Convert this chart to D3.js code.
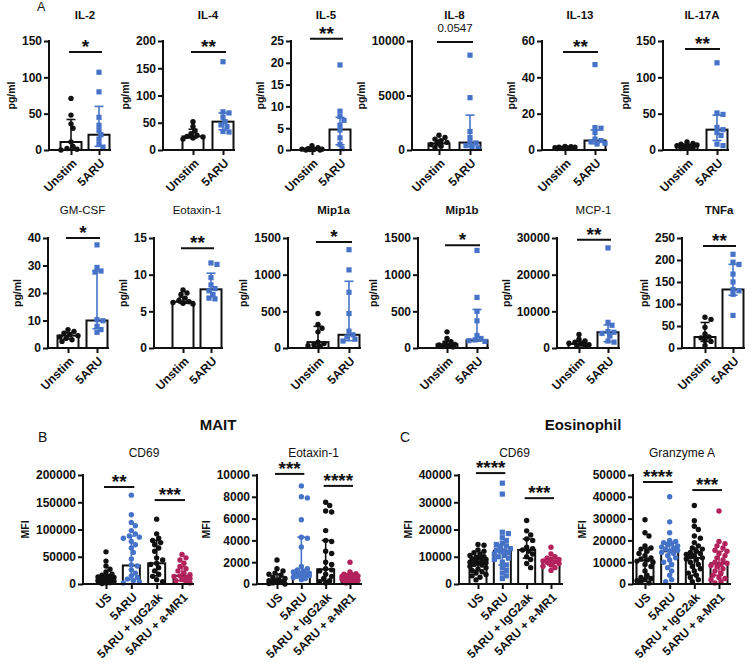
<!DOCTYPE html>
<html>
<head>
<meta charset="utf-8">
<script src="https://cdn.jsdelivr.net/npm/d3@7"></script>
<style>
  body { margin: 0; background: #fff; }
  text { font-family: "Liberation Sans", Arial, Helvetica, sans-serif; }
</style>
</head>
<body>
<script>
// ---- panel A: cytokines, Unstim vs 5ARU ----
const cytokines = ['IL-2', 'IL-4', 'IL-5', 'IL-8', 'IL-13', 'IL-17A',
    'GM-CSF', 'Eotaxin-1', 'Mip1a', 'Mip1b', 'MCP-1', 'TNFa'];
const stimGroups = ['Unstim', '5ARU'];

const unstimValues = [
    [71, 48, 36, 30, 11, 5, 2, 1, 0],
    [52, 43, 35, 30, 27, 25, 24, 22, 20],
    [1.0, 0.5, 0.3, 0.2, 0.2, 0.1, 0.1, 0, 0],
    [1350, 1150, 1000, 850, 700, 600, 500, 350, 200],
    [2.0, 1.8, 1.6, 1.5, 1.3, 1.2, 1.0, 0.9, 0.8],
    [11, 9, 8, 7, 6, 5, 4, 3, 2],
    [6.7, 6.0, 5.4, 4.8, 4.5, 4.0, 3.5, 3.0, 2.4],
    [7.9, 7.5, 7.3, 6.8, 6.5, 6.3, 6.2, 6.1, 6.0],
    [470, 320, 270, 220, 80, 60, 45, 30, 20],
    [220, 130, 85, 65, 50, 40, 30, 20, 15],
    [3700, 2400, 1900, 1600, 1300, 1100, 900, 700, 500],
    [70, 65, 47, 32, 25, 23, 17, 15, 6]
];
const aruValues = [
    [107, 80, 45, 34, 27, 21, 15, 8, 4],
    [162, 70, 68, 60, 52, 46, 43, 34, 33],
    [19.5, 8.9, 7.7, 6.8, 5.7, 4.6, 2.8, 1.3, 0.3],
    [8700, 4800, 1700, 1150, 700, 650, 400, 300, 200],
    [47, 12.3, 12, 9.6, 6, 5.2, 4.5, 3.7, 3.3],
    [120, 51, 49, 31, 28, 24, 20, 8, 6],
    [37.5, 29.3, 28, 27.6, 10.3, 9.9, 7.9, 6.7, 5.7],
    [11.6, 11.4, 9.6, 8.6, 8.1, 7.8, 7.3, 6.8, 6.7],
    [1340, 1065, 760, 470, 230, 180, 150, 120, 95],
    [1330, 690, 500, 370, 170, 130, 110, 100, 90],
    [27300, 7000, 6200, 4500, 4300, 4000, 3300, 1900, 1600],
    [213, 195, 190, 168, 150, 133, 130, 122, 74]
];
// median with interquartile range
const unstimMedian = [11, 25, 0.2, 600, 1.3, 5, 4.5, 6.3, 80, 50, 1100, 25];
const unstimLow = [1, 22, 0.05, 400, 1.0, 3, 3.3, 6.1, 25, 20, 700, 15];
const unstimHigh = [42, 38, 0.5, 900, 1.7, 8, 5.6, 6.9, 295, 90, 1800, 58];
const aruMedian = [21, 52, 4.7, 680, 5.2, 28, 10, 8, 180, 105, 4300, 133];
const aruLow = [5, 37, 1.2, 300, 3.5, 13, 7, 7, 100, 95, 1700, 120];
const aruHigh = [60, 68, 7.5, 3200, 11, 48, 28, 10.2, 910, 525, 6300, 190];

const cytokineMax = [150, 200, 25, 10000, 60, 150, 40, 15, 1500, 1500, 30000, 250];
const cytokineStep = [50, 50, 5, 5000, 20, 50, 10, 5, 500, 500, 10000, 50];
const cytokineSig = ['*', '**', '**', '0.0547', '**', '**', '*', '**', '*', '*', '**', '**'];
const cytokineSigLevel = [135, 180, 25.5, 9900, 54, 139, 40, 13.6, 1445, 1400, 29500, 232];

// ---- panels B / C: flow cytometry MFI ----
const flowGroups = ['US', '5ARU', '5ARU + IgG2ak', '5ARU + a-MR1'];
const flowTitles = ['CD69', 'Eotaxin-1', 'CD69', 'Granzyme A'];
const flowValues = [
    [
        [59000, 42000, 33000, 27000, 22000, 18000, 16000, 14000, 13000, 12000, 11000, 10500,
            10000, 9000, 8000, 7000, 6000, 5500, 5000, 4000, 3000, 2500, 2000, 1000],
        [163000, 127000, 113000, 107000, 98000, 92000, 88000, 86000, 84000, 78000, 72000, 66000,
            58000, 46000, 35000, 33000, 26000, 20000, 15000, 12000, 9000, 6000, 4000, 2000],
        [119000, 92000, 84000, 80000, 76000, 72000, 66000, 60000, 48000, 44000, 38000, 36000,
            30000, 24000, 18000, 14000, 8000, 4000],
        [54000, 48000, 44000, 38000, 32000, 28000, 24000, 20000, 17000, 15000, 14000, 12000,
            10000, 8000, 6000, 4000, 2000]
    ],
    [
        [2200, 1400, 1200, 1000, 900, 800, 600, 500, 400, 300, 300, 200, 150, 100, 50, 0],
        [9000, 8000, 7900, 5900, 4300, 4200, 3400, 1600, 1400, 1300, 1200, 1100, 1000, 950,
            900, 850, 800, 750, 700, 600, 500, 400],
        [7500, 7200, 6700, 6600, 4900, 4000, 3900, 3000, 2800, 2000, 1800, 1400, 1300, 1200,
            900, 700, 500, 300, 200, 100],
        [2000, 1100, 950, 900, 850, 800, 750, 700, 650, 600, 600, 550, 500, 450, 400, 350,
            300, 250, 200, 150, 100]
    ],
    [
        [14500, 14200, 12500, 12000, 11500, 11000, 10500, 10000, 9800, 9500, 9200, 9000, 8700,
            8400, 8000, 7800, 7500, 7200, 7000, 6500, 6000, 5500, 5000, 4500, 4000, 3500, 3000,
            2500, 1500],
        [37000, 33000, 19000, 18500, 17000, 16000, 15000, 14500, 14000, 13500, 13000, 12500,
            12200, 12000, 11500, 11000, 10500, 10000, 9500, 9000, 8000, 7000, 6000, 5000, 4000,
            3000, 2000],
        [23300, 19500, 18000, 16500, 16000, 13500, 13000, 12500, 12000, 11000, 10000, 9000,
            7500, 6000],
        [13500, 11000, 10000, 9500, 9000, 8700, 8500, 8200, 8000, 7500, 7000, 6500, 6000, 5000]
    ],
    [
        [29500, 23500, 22000, 17500, 16500, 16000, 15000, 14000, 13000, 12000, 11500, 11000,
            10500, 10000, 9000, 8000, 6000, 4000, 3000, 2500, 2000, 1500, 1000, 500],
        [40000, 28500, 23500, 20000, 19500, 19000, 18500, 18000, 17500, 17000, 16500, 16000,
            15500, 15000, 14500, 14000, 13000, 12000, 11000, 10000, 9000, 7500, 6000, 4000,
            2000, 1000],
        [36000, 29000, 26500, 25000, 22000, 21000, 19000, 17500, 16500, 16000, 15000, 14500,
            14000, 13500, 13000, 12500, 12000, 11500, 11000, 10000, 9000, 8000, 7000, 6000,
            5000, 4000, 3000, 2000, 1000],
        [33500, 19500, 18500, 17500, 16500, 15500, 15000, 14000, 13000, 12000, 11000, 10000,
            9500, 9000, 8500, 8000, 7000, 6000, 5000, 4000, 3000, 2500, 2000, 1000, 500]
    ]
];
const flowMedian = [
    [10000, 34000, 38000, 15000],
    [300, 1050, 1350, 600],
    [8000, 12200, 12500, 8300],
    [10800, 15000, 12000, 9500]
];
const flowLow = [
    [4000, 8000, 15000, 6000],
    [100, 700, 300, 300],
    [5000, 7000, 9500, 7000],
    [2500, 8000, 4000, 4000]
];
const flowHigh = [
    [17000, 88000, 80000, 32000],
    [900, 4300, 4000, 900],
    [10000, 14500, 16500, 9700],
    [16500, 19000, 16500, 15000]
];
const flowMax = [200000, 10000, 40000, 50000];
const flowStep = [50000, 2000, 10000, 10000];
// [from group, to group, label, bracket level]
const flowSig = [
    [[0, 1, '**', 178000], [2, 3, '***', 154000]],
    [[0, 1, '***', 10100], [2, 3, '****', 9000]],
    [[0, 1, '****', 40700], [2, 3, '***', 31500]],
    [[0, 1, '****', 46800], [2, 3, '***', 43100]]
];

// ---- layout ----
const W = 756, H = 664;
const BLACK = '#111', BLUE = '#4673c8', CRIMSON = '#b3225c';
const svg = d3.select('body').append('svg').attr('width', W).attr('height', H);

const cytoRows = [{ top: 41, bottom: 150, title: 19 }, { top: 238, bottom: 348, title: 214 }];
const cytoLayout = [
    [49, 71, 99], [163, 193, 223], [291, 312, 340], [412, 439, 470], [542, 565, 595], [663, 687, 717],
    [48, 68, 97], [154, 183, 211], [288, 318, 349], [418, 447, 477], [557, 579, 608], [682, 705, 733]
];
const cytoTitleBold = [true, true, true, true, true, true, false, false, true, true, false, true];
const flowLayout = [[83, 106, 182], [257, 277, 350], [459, 478, 551], [633, 645, 719]];
const flowShapes = [
    ['circle', 'circle', 'circle', 'circle'],
    ['circle', 'circle', 'circle', 'circle'],
    ['circle', 'square', 'circle', 'circle'],
    ['circle', 'circle', 'circle', 'circle']
];

// simple bounded beeswarm: keep points within the bar, overlap when crowded
function swarm(vals, y, cx, diam, maxOff) {
    const pts = vals.map(v => ({ v, py: y(v) })).sort((a, b) => a.py - b.py);
    const placed = [];
    const cand = [0];
    for (let k = 1; k * diam * 0.4 <= maxOff; k++) {
        cand.push(k * diam * 0.4, -k * diam * 0.4);
    }
    pts.forEach(p => {
        let best = null, bestD = -1;
        for (const off of cand) {
            const px = cx + off;
            const d = placed.length ? d3.min(placed, q => Math.hypot(q.px - px, q.py - p.py)) : Infinity;
            if (d >= diam * 0.95) { best = px; break; }
            if (d > bestD) { bestD = d; best = px; }
        }
        p.px = best;
        placed.push(p);
    });
    return placed;
}

function drawPanel(p) {
    const g = svg.append('g');
    const y = d3.scaleLinear().domain([0, p.max]).range([p.bottom, p.top]);
    const x = d3.scalePoint().domain(p.groups).range([p.first, p.last]);

    // bars (median)
    g.selectAll('rect.bar')
        .data(p.groups)
        .join('rect')
        .attr('class', 'bar')
        .attr('x', d => x(d) - p.barW / 2)
        .attr('y', (d, i) => y(p.median[i]))
        .attr('width', p.barW)
        .attr('height', (d, i) => y(0) - y(p.median[i]))
        .attr('fill', '#fff')
        .attr('stroke', BLACK)
        .attr('stroke-width', 2);

    // individual points
    p.groups.forEach((grp, i) => {
        const pts = swarm(p.values[i], y, x(grp), 5, p.barW / 2 + 1);
        if (p.shapes[i] === 'square') {
            g.selectAll(null).data(pts).join('rect')
                .attr('x', d => d.px - 2.6).attr('y', d => d.py - 2.6)
                .attr('width', 5.2).attr('height', 5.2)
                .attr('fill', p.colors[i]);
        } else {
            g.selectAll(null).data(pts).join('circle')
                .attr('cx', d => d.px).attr('cy', d => d.py).attr('r', 2.7)
                .attr('fill', p.colors[i]);
        }
    });

    // interquartile range
    p.groups.forEach((grp, i) => {
        const cx = x(grp);
        const eg = g.append('g').attr('stroke', p.colors[i]).attr('stroke-width', 1.6);
        eg.append('line').attr('x1', cx).attr('x2', cx)
            .attr('y1', y(p.low[i])).attr('y2', y(p.high[i]));
        [p.low[i], p.high[i]].forEach(v => {
            eg.append('line').attr('x1', cx - p.cap).attr('x2', cx + p.cap)
                .attr('y1', y(v)).attr('y2', y(v));
        });
    });

    // y axis
    const yAxis = g.append('g')
        .attr('transform', `translate(${p.left},0)`)
        .call(d3.axisLeft(y)
            .tickValues(d3.range(0, p.max + p.step / 2, p.step))
            .tickSize(5)
            .tickSizeOuter(0)
            .tickPadding(2)
            .tickFormat(d3.format('d')));
    yAxis.attr('font-family', null).attr('font-size', 12).attr('font-weight', 'bold');
    yAxis.select('.domain').attr('d', `M0,${y(p.max) - 1}V${y(0) + 1}`)
        .attr('stroke', BLACK).attr('stroke-width', 2);
    yAxis.selectAll('.tick line').attr('stroke', BLACK).attr('stroke-width', 2);
    yAxis.selectAll('.tick text').attr('fill', BLACK);
    let maxW = 0;
    yAxis.selectAll('.tick text').each(function () {
        maxW = Math.max(maxW, this.getComputedTextLength());
    });

    // x axis
    const xAxis = g.append('g')
        .attr('transform', `translate(0,${y(0)})`)
        .call(d3.axisBottom(x).tickSize(5).tickSizeOuter(0));
    xAxis.attr('font-family', null).attr('font-size', p.xFont).attr('font-weight', 'bold');
    xAxis.select('.domain').attr('d', `M${p.left - 1},0H${p.last + 12}`)
        .attr('stroke', BLACK).attr('stroke-width', 2);
    xAxis.selectAll('.tick line').attr('stroke', BLACK).attr('stroke-width', 2);
    xAxis.selectAll('.tick text')
        .attr('y', 0)
        .attr('dy', '0.35em')
        .attr('transform', 'translate(3,11) rotate(-45)')
        .style('text-anchor', 'end')
        .attr('fill', BLACK);

    // y label
    const ly = (p.top + p.bottom) / 2;
    const lx = p.left - 7 - maxW - 7;
    g.append('text')
        .attr('transform', `translate(${lx},${ly}) rotate(-90)`)
        .attr('text-anchor', 'middle')
        .attr('font-size', 10.5)
        .attr('font-weight', 'bold')
        .attr('fill', BLACK)
        .text(p.yLabel);

    // title
    g.append('text')
        .attr('x', (p.first + p.last) / 2)
        .attr('y', p.titleY)
        .attr('text-anchor', 'middle')
        .attr('font-size', p.titleSize)
        .attr('font-weight', p.titleBold ? 'bold' : 'normal')
        .attr('fill', BLACK)
        .text(p.title);

    // significance brackets
    p.sig.forEach(([a, b, label, level]) => {
        const ys = y(level);
        g.append('line')
            .attr('x1', x(p.groups[a]) - 2).attr('x2', x(p.groups[b]) + 3)
            .attr('y1', ys).attr('y2', ys)
            .attr('stroke', BLACK).attr('stroke-width', 2);
        const isStar = /^\*+$/.test(label);
        g.append('text')
            .attr('x', (x(p.groups[a]) + x(p.groups[b])) / 2 + 0.5)
            .attr('y', isStar ? ys + 1 : ys - 10)
            .attr('text-anchor', 'middle')
            .attr('font-size', isStar ? 19 : 11.5)
            .attr('font-weight', isStar ? 'bold' : 'normal')
            .attr('fill', BLACK)
            .text(label);
    });
}

cytokines.forEach((name, i) => {
    const row = cytoRows[i < 6 ? 0 : 1];
    const [left, first, last] = cytoLayout[i];
    drawPanel({
        groups: stimGroups,
        values: [unstimValues[i], aruValues[i]],
        median: [unstimMedian[i], aruMedian[i]],
        low: [unstimLow[i], aruLow[i]],
        high: [unstimHigh[i], aruHigh[i]],
        colors: [BLACK, BLUE],
        shapes: ['circle', 'square'],
        max: cytokineMax[i],
        step: cytokineStep[i],
        sig: [[0, 1, cytokineSig[i], cytokineSigLevel[i]]],
        top: row.top, bottom: row.bottom, titleY: row.title,
        left, first, last,
        barW: 21, cap: 4.5, xFont: 12,
        title: name, titleBold: cytoTitleBold[i], titleSize: 11.5,
        yLabel: 'pg/ml'
    });
});

flowTitles.forEach((name, i) => {
    const [left, first, last] = flowLayout[i];
    drawPanel({
        groups: flowGroups,
        values: flowValues[i],
        median: flowMedian[i],
        low: flowLow[i],
        high: flowHigh[i],
        colors: [BLACK, BLUE, BLACK, CRIMSON],
        shapes: flowShapes[i],
        max: flowMax[i],
        step: flowStep[i],
        sig: flowSig[i],
        top: 475, bottom: 584, titleY: 457,
        left, first, last,
        barW: 17, cap: 4, xFont: 12,
        title: name, titleBold: false, titleSize: 12,
        yLabel: 'MFI'
    });
});

// section labels
const labels = [
    { t: 'A', x: 37, y: 11, size: 12.5, w: 'normal' },
    { t: 'B', x: 38, y: 442, size: 14, w: 'normal' },
    { t: 'C', x: 400, y: 442, size: 14, w: 'normal' },
    { t: 'MAIT', x: 218, y: 430, size: 15, w: 'bold', anchor: 'middle' },
    { t: 'Eosinophil', x: 583, y: 430, size: 15, w: 'bold', anchor: 'middle' }
];
svg.selectAll('text.section')
    .data(labels)
    .join('text')
    .attr('class', 'section')
    .attr('x', d => d.x)
    .attr('y', d => d.y)
    .attr('text-anchor', d => d.anchor || 'start')
    .attr('font-size', d => d.size)
    .attr('font-weight', d => d.w)
    .attr('fill', BLACK)
    .text(d => d.t);
</script>
</body>
</html>
